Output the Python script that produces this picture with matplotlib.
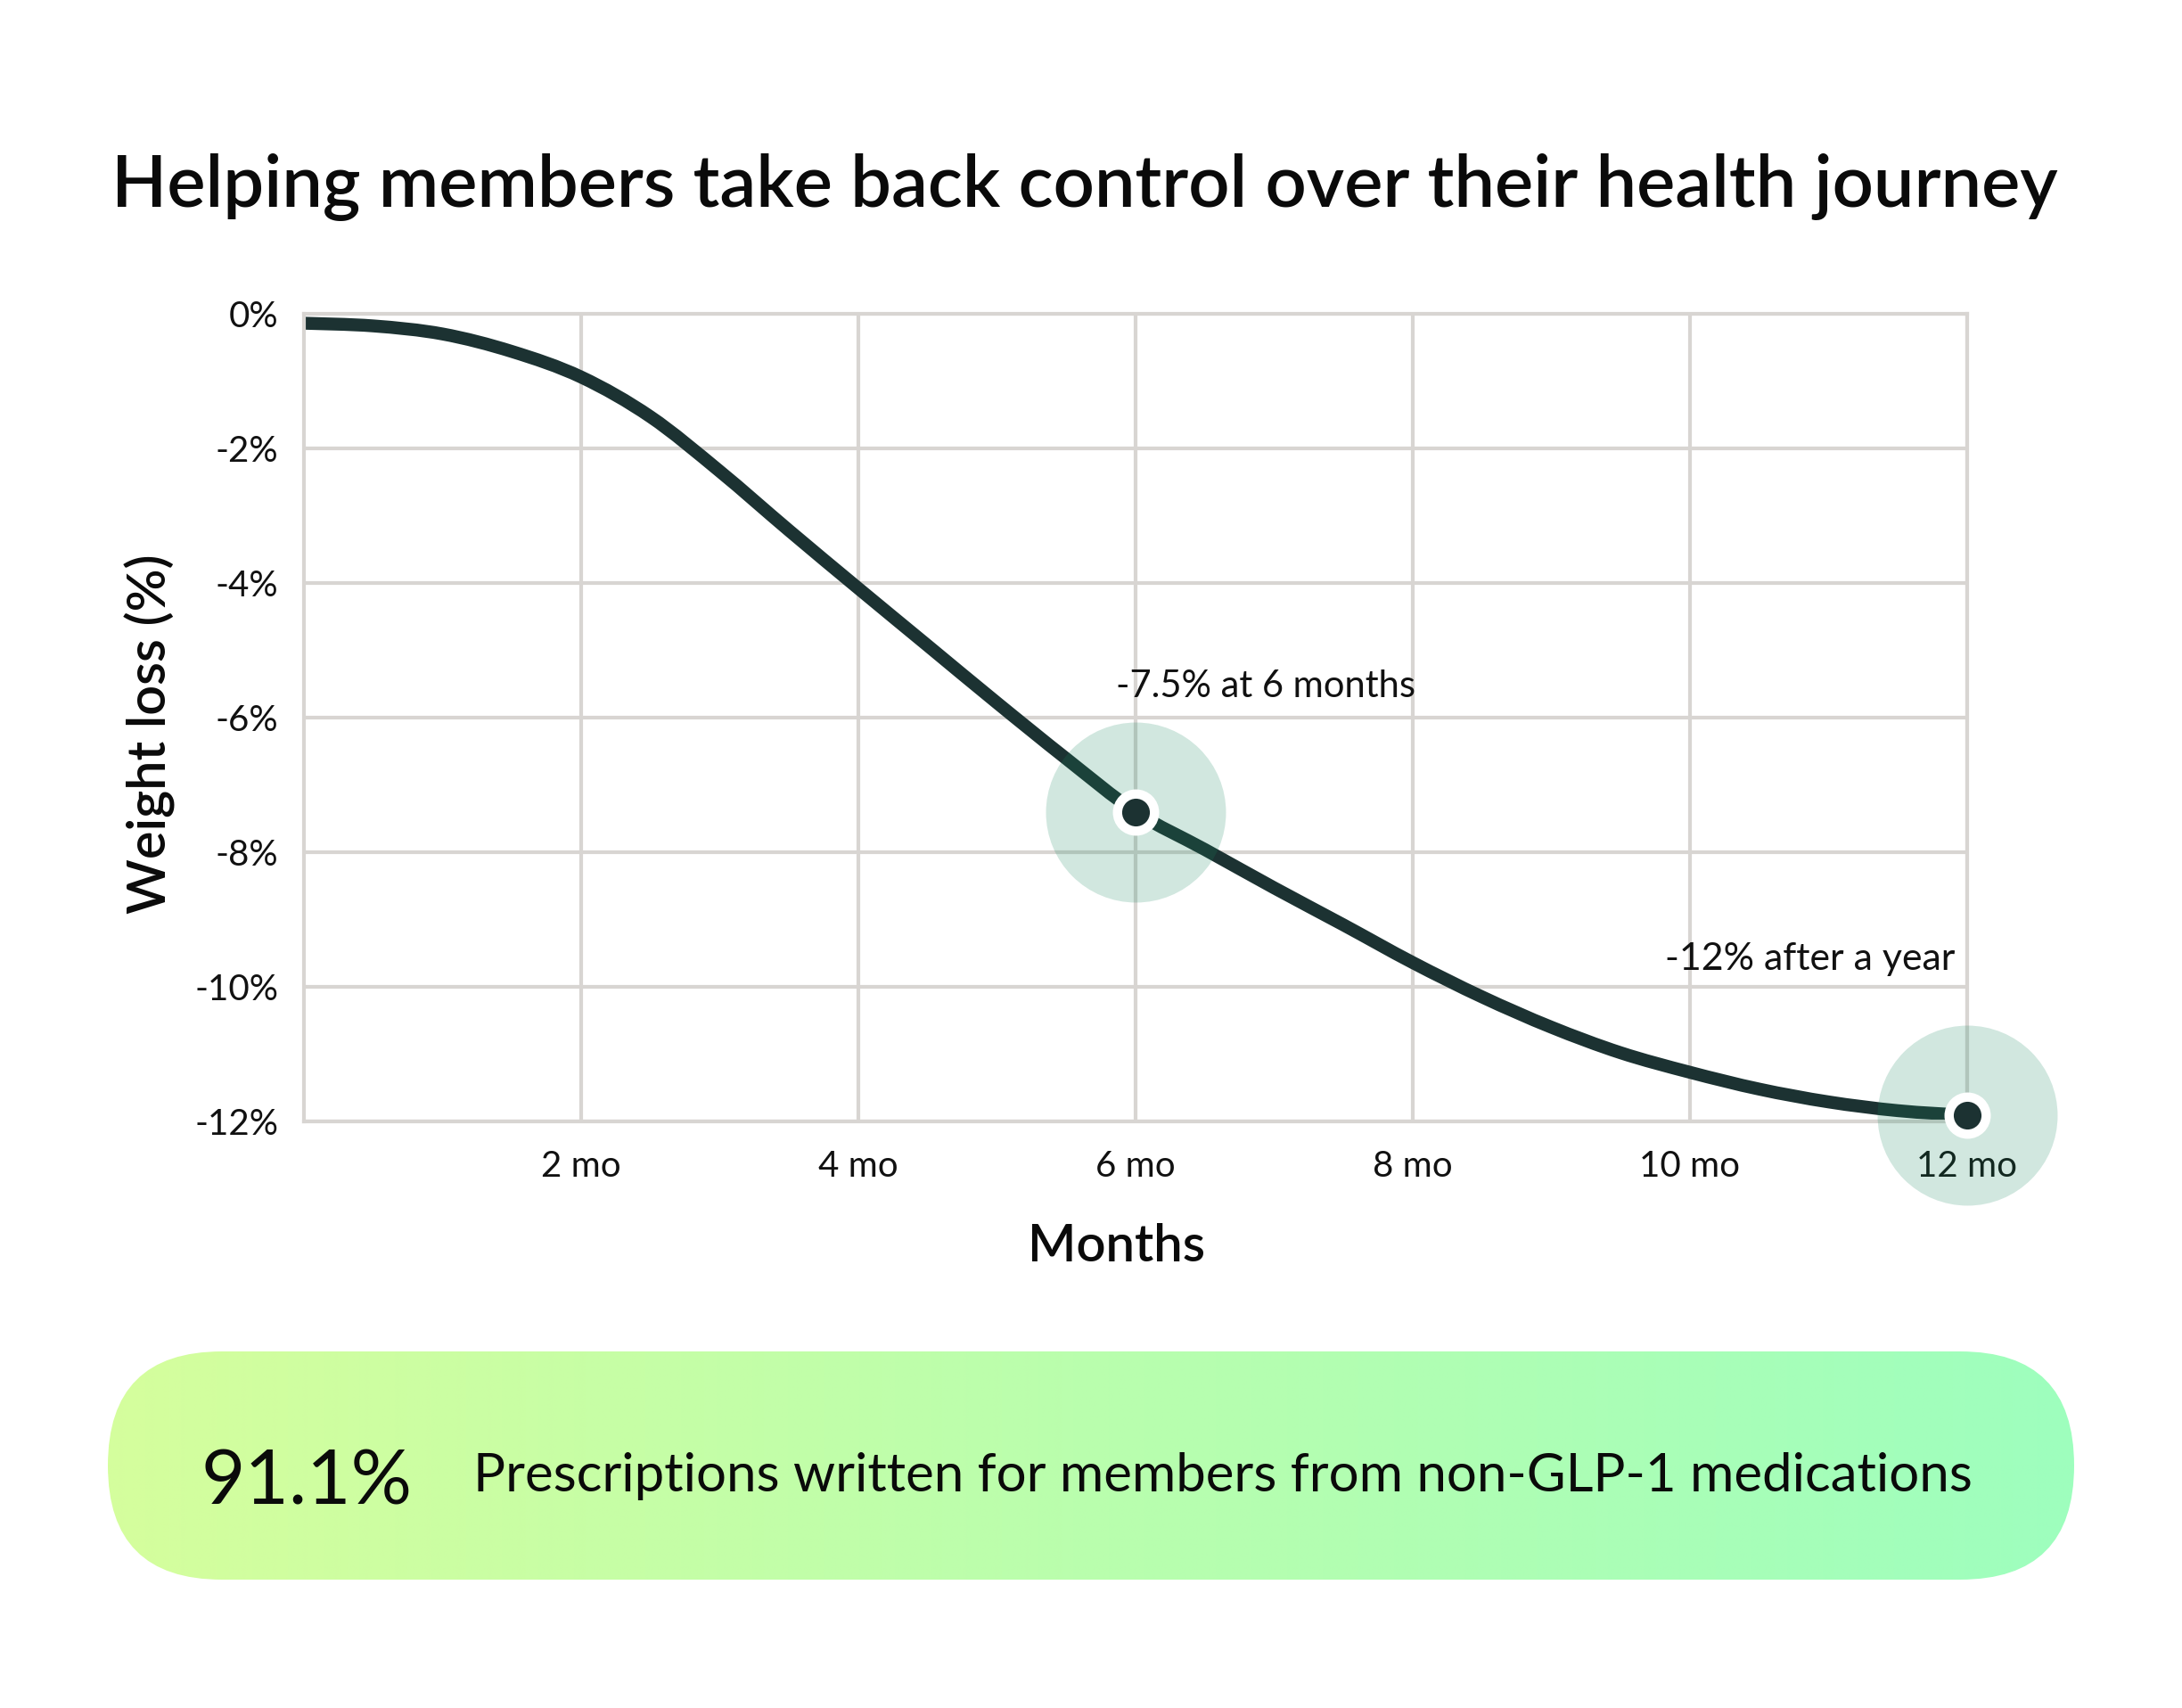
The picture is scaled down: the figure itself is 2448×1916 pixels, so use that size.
import numpy as np
import matplotlib
matplotlib.use("Agg")
import matplotlib.pyplot as plt
from matplotlib.patches import FancyBboxPatch, PathPatch
from matplotlib.path import Path

plt.rcParams['font.family'] = ['Lato', 'DejaVu Sans']

# ---------------- data ----------------
months = [0, 0.5, 1, 1.5, 2, 2.5, 3, 3.5, 4, 4.5, 5, 5.5, 6,
          6.5, 7, 7.5, 8, 8.5, 9, 9.5, 10, 10.5, 11, 11.5, 12]
weight_loss = [-0.14, -0.18, -0.30, -0.56, -0.94, -1.53, -2.34, -3.22, -4.08,
               -4.93, -5.78, -6.61, -7.40, -7.96, -8.53, -9.08, -9.64, -10.15,
               -10.60, -10.98, -11.27, -11.52, -11.71, -11.84, -11.91]
highlight_months = [6, 12]
highlight_values = [-7.40, -11.91]
x_ticks = [2, 4, 6, 8, 10, 12]
x_tick_labels = ['2 mo', '4 mo', '6 mo', '8 mo', '10 mo', '12 mo']
y_ticks = [0, -2, -4, -6, -8, -10, -12]
y_tick_labels = ['0%', '-2%', '-4%', '-6%', '-8%', '-10%', '-12%']
title_text = 'Helping members take back control over their health journey'
x_label = 'Months'
y_label = 'Weight loss (%)'
annot_6 = '-7.5% at 6 months'
annot_12 = '-12% after a year'
stat_value = '91.1%'
stat_text = 'Prescriptions written for members from non-GLP-1 medications'

# ---------------- style ----------------
W, H, DPI = 2448, 1916, 200
LINE = '#1C3232'
GRID = '#D8D5D2'
HALO = '#19875F'
TXT = '#0A0A0A'
PILL_L = np.array([213, 254, 157]) / 255
PILL_R = np.array([158, 254, 190]) / 255

fig = plt.figure(figsize=(W / DPI, H / DPI), dpi=DPI)
fig.patch.set_facecolor('white')

# background axes in pixel units (for the pill)
bg = fig.add_axes([0, 0, 1, 1], zorder=0)
bg.set_xlim(0, W)
bg.set_ylim(H, 0)
bg.axis('off')
pill = FancyBboxPatch((121, 1516), 2206, 256,
                      boxstyle='round,pad=0,rounding_size=128',
                      facecolor='none', edgecolor='none')
bg.add_patch(pill)
t = np.linspace(0, 1, 512)[:, None]
grad = (PILL_L[None, :] * (1 - t) + PILL_R[None, :] * t)[None, :, :]
im = bg.imshow(grad, extent=[121, 2327, 1772, 1516], aspect='auto',
               interpolation='bilinear')
im.set_clip_path(pill)
bg.set_xlim(0, W)
bg.set_ylim(H, 0)

# main chart axes
ax = fig.add_axes([341 / W, 1 - 1258 / H, (2207 - 341) / W, (1258 - 352) / H], zorder=1)
ax.set_xlim(0, 12)
ax.set_ylim(-12, 0)
ax.set_xticks(x_ticks)
ax.set_xticklabels(x_tick_labels)
ax.set_yticks(y_ticks)
ax.set_yticklabels(y_tick_labels)
ax.tick_params(axis='both', length=0, labelsize=14.5, labelcolor='#111111')
ax.tick_params(axis='y', pad=10.4)
ax.tick_params(axis='x', pad=11.5)
ax.set_axisbelow(True)
ax.grid(True, color=GRID, linewidth=1.5)
for s in ax.spines.values():
    s.set_color(GRID)
    s.set_linewidth(1.5)

# smooth curve through the data points (Catmull-Rom -> cubic Bezier)
xa = np.asarray(months, float)
ya = np.asarray(weight_loss, float)
pts = np.column_stack([xa, ya])
n = len(pts)
verts = [pts[0]]
codes = [Path.MOVETO]
for i in range(n - 1):
    p0 = pts[i - 1] if i > 0 else pts[i]
    p1 = pts[i]
    p2 = pts[i + 1]
    p3 = pts[i + 2] if i + 2 < n else pts[i + 1]
    verts += [p1 + (p2 - p0) / 6.0, p2 - (p3 - p1) / 6.0, p2]
    codes += [Path.CURVE4] * 3
curve = PathPatch(Path(np.array(verts), codes), facecolor='none', edgecolor=LINE,
                  lw=5.2, capstyle='butt', joinstyle='round', zorder=2)
ax.add_patch(curve)

ax.scatter(highlight_months, highlight_values, s=72.7 ** 2, color=HALO, alpha=0.2,
           linewidths=0, zorder=3, clip_on=False)
ax.scatter(highlight_months, highlight_values, s=18.7 ** 2, color='white',
           linewidths=0, zorder=4, clip_on=False)
ax.scatter(highlight_months, highlight_values, s=11.2 ** 2, color=LINE,
           linewidths=0, zorder=5, clip_on=False)

a6 = ax.text(5.86, -5.70, annot_6, ha='left', va='baseline', fontsize=14, color='#111111', zorder=6)
a12 = ax.text(11.91, -9.75, annot_12, ha='right', va='baseline', fontsize=14, color='#111111', zorder=6)

# figure-level texts (pixel positions)
def ft(x, y, s, **kw):
    return fig.text(x / W, 1 - y / H, s, **kw)

title = ft(1217, 232, title_text, ha='center', va='baseline', fontsize=27,
           fontweight='semibold', color=TXT)
xl = ft(1253, 1415, x_label, ha='center', va='baseline', fontsize=20,
        fontweight='semibold', color=TXT)
yl = ft(168, 823, y_label, ha='center', va='center', rotation=90, fontsize=20,
        fontweight='semibold', color=TXT)
sv = ft(226, 1688, stat_value, ha='left', va='baseline', fontsize=40,
        fontweight='normal', color=TXT, zorder=5)
st = ft(531, 1673, stat_text, ha='left', va='baseline', fontsize=21,
        color=TXT, zorder=5)

# scale text sizes so their widths match the reference layout
fig.canvas.draw()
r = fig.canvas.get_renderer()
for txt, target, use_h in [(title, 2184, False), (xl, 199, False), (yl, 403, True),
                           (sv, 237, False), (st, 1684, False),
                           (a6, 336, False), (a12, 326, False)]:
    bb = txt.get_window_extent(r)
    cur = bb.height if use_h else bb.width
    txt.set_fontsize(txt.get_fontsize() * target / cur)

fig.savefig('out.png', dpi=DPI, facecolor='white')
